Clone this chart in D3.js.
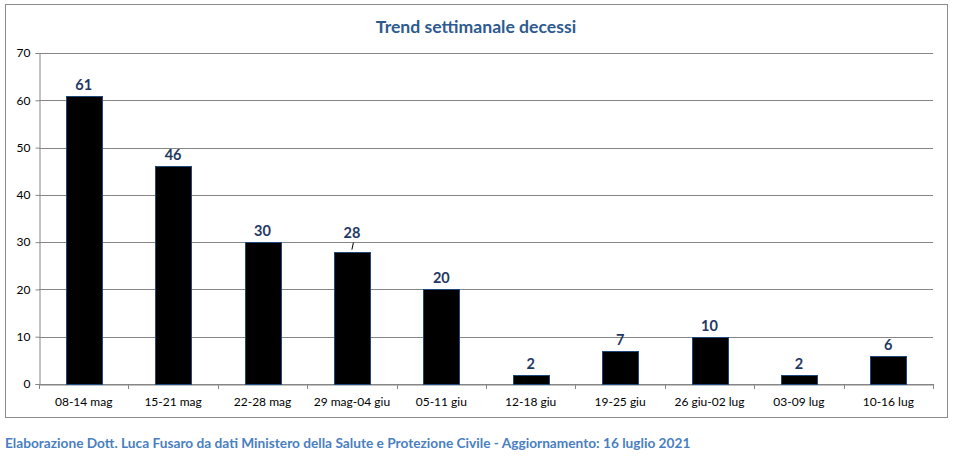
<!DOCTYPE html>
<html><head><meta charset="utf-8">
<script src="https://cdn.jsdelivr.net/npm/d3@7"></script>
<style>body{margin:0;background:#fff;} svg{display:block;}</style>
</head><body><svg id="c" width="959" height="458"></svg>
<script>
const categories = ["08-14 mag","15-21 mag","22-28 mag","29 mag-04 giu","05-11 giu","12-18 giu","19-25 giu","26 giu-02 lug","03-09 lug","10-16 lug"];
const values = [61,46,30,28,20,2,7,10,2,6];
const yTicks = [0,10,20,30,40,50,60,70];
const title = "Trend settimanale decessi";
const footer = "Elaborazione Dott. Luca Fusaro da dati Ministero della Salute e Protezione Civile - Aggiornamento: 16 luglio 2021";

const font = "Lato, 'Open Sans', sans-serif";
const svg = d3.select("#c");
svg.append("rect").attr("x",5.5).attr("y",4.5).attr("width",942).attr("height",413)
  .attr("fill","#fff").attr("stroke","#8c8c8c").attr("stroke-width",1);

const m = {l:39, r:933, t:53, b:384};
const x = d3.scaleBand().domain(categories).range([m.l, m.r]).paddingInner(0.6).paddingOuter(0.3);
const xb = d3.scaleBand().domain(categories).range([m.l, m.r]);
const y = d3.scaleLinear().domain([0,70]).range([m.b, m.t]);

// gridlines
svg.append("g").selectAll("line").data(yTicks).join("line")
  .attr("x1", m.l).attr("x2", m.r).attr("y1", d=>Math.round(y(d))+0.5).attr("y2", d=>Math.round(y(d))+0.5)
  .attr("stroke","#868686").attr("stroke-width",1);

// y axis
const ya = svg.append("g").attr("transform",`translate(${m.l+0.5},0)`)
  .call(d3.axisLeft(y).tickValues(yTicks).tickSize(4).tickPadding(5));
ya.select(".domain").attr("stroke","#868686");
ya.selectAll(".tick line").attr("stroke","#868686");
ya.selectAll(".tick text").attr("font-family",font).attr("font-size",12).attr("fill","#000");

// x axis
const xa = svg.append("g").attr("transform",`translate(0,${Math.round(y(0))+0.5})`)
  .call(d3.axisBottom(xb).tickSize(0).tickPadding(13));
xa.select(".domain").attr("stroke","#868686");
xa.selectAll(".tick text").attr("font-family",font).attr("font-size",12).attr("fill","#000");
// boundary ticks
const bounds = categories.map(c=>xb(c)).concat([m.r]);
svg.append("g").selectAll("line").data(bounds).join("line")
  .attr("x1",d=>Math.round(d)+0.5).attr("x2",d=>Math.round(d)+0.5)
  .attr("y1",Math.round(y(0))).attr("y2",Math.round(y(0))+5)
  .attr("stroke","#868686");

// bars
svg.append("g").selectAll("rect").data(values).join("rect")
  .attr("x",(d,i)=>Math.round(x(categories[i]))+0.5)
  .attr("y",d=>Math.round(y(d))+0.5)
  .attr("width",Math.round(x.bandwidth()))
  .attr("height",d=>Math.round(y(0))-Math.round(y(d)))
  .attr("fill","#000").attr("stroke","#1f497d").attr("stroke-width",1);

// labels
const lblOff = values.map(d => d===28 ? 14 : 6);
svg.append("g").selectAll("text").data(values).join("text")
  .attr("x",(d,i)=>x(categories[i])+x.bandwidth()/2)
  .attr("y",(d,i)=>y(d)-lblOff[i])
  .attr("text-anchor","middle").attr("font-family",font).attr("font-weight","bold")
  .attr("font-size",14.5).attr("fill","#1f3864").text(d=>d);
// leader line for 28
values.forEach((d,i)=>{ if(lblOff[i]>8){
  const cx = x(categories[i])+x.bandwidth()/2;
  svg.append("line").attr("x1",cx).attr("y1",y(d)-2).attr("x2",cx+1.5).attr("y2",y(d)-9)
    .attr("stroke","#000").attr("stroke-width",1);
}});

svg.append("text").attr("x",476).attr("y",33).attr("text-anchor","middle")
  .attr("font-family",font).attr("font-weight","bold").attr("font-size",17.6).attr("fill","#2e5a8e").text(title);
svg.append("text").attr("x",5).attr("y",448)
  .attr("font-family",font).attr("font-weight","bold").attr("font-size",13.7).attr("fill","#4a7fc0").text(footer);
</script></body></html>
